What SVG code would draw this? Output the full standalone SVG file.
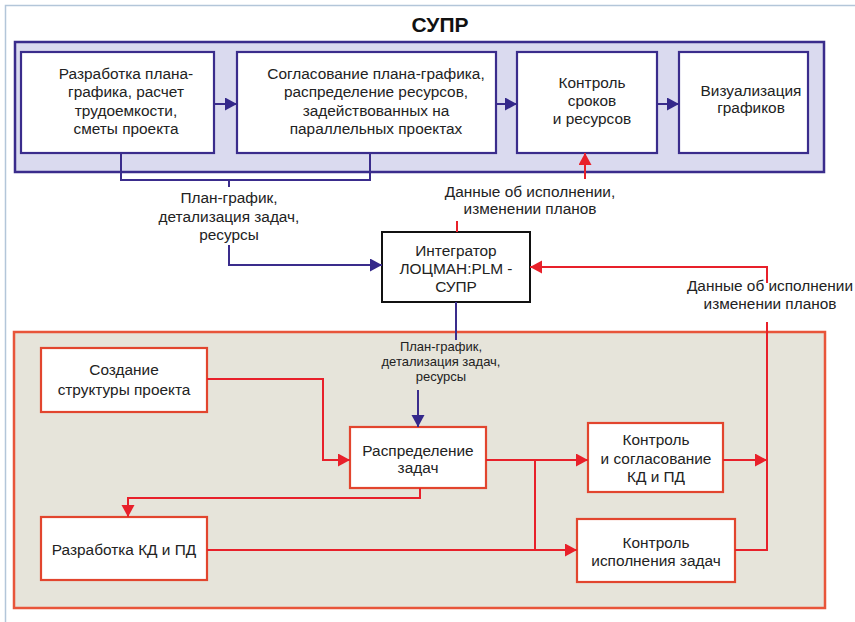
<svg xmlns="http://www.w3.org/2000/svg" width="855" height="622" viewBox="0 0 855 622">
<defs>
<marker id="ab" markerUnits="userSpaceOnUse" markerWidth="14" markerHeight="14" refX="12" refY="6.5" orient="auto"><path d="M0,0 L12,6.5 L0,13 z" fill="#34288a"/></marker>
<marker id="ar" markerUnits="userSpaceOnUse" markerWidth="14" markerHeight="14" refX="12" refY="6.5" orient="auto"><path d="M0,0 L12,6.5 L0,13 z" fill="#e8202a"/></marker>
</defs>
<style>
text{font-family:"Liberation Sans",Arial,sans-serif;fill:#222;text-anchor:middle}
.t{font-size:15.4px}
.s{font-size:13px}
.bbox{fill:#fff;stroke:#3a2c8c;stroke-width:2.2}
.rbox{fill:#fff;stroke:#e2452e;stroke-width:2.2}
.bl{fill:none;stroke:#3a2c8c;stroke-width:2}
.rl{fill:none;stroke:#e8202a;stroke-width:2}
</style>
<rect width="855" height="622" fill="#fff"/>
<path d="M5.5,622 V5.5 H855" fill="none" stroke="#b3c6d9" stroke-width="1.5"/>
<text x="440" y="32" style="font-size:21px;font-weight:bold;fill:#111">СУПР</text>

<g id="supr-container"><rect x="15" y="42" width="809" height="130" fill="#dadaef" stroke="#3a2c8c" stroke-width="2.5"/></g>
<g id="plm-container"><rect x="14" y="332" width="811" height="276" fill="#e6e4da" stroke="#e8553a" stroke-width="2.5"/></g>

<g id="n1"><rect class="bbox" x="21" y="52" width="193" height="101"/>
<text class="t" x="126" y="79">Разработка плана-</text><text class="t" x="126" y="97">графика, расчет</text><text class="t" x="126" y="116">трудоемкости,</text><text class="t" x="126" y="134">сметы проекта</text></g>
<g id="n2"><rect class="bbox" x="237" y="52" width="259" height="101"/>
<text class="t" x="376" y="79">Согласование плана-графика,</text><text class="t" x="376" y="97">распределение ресурсов,</text><text class="t" x="376" y="116">задействованных на</text><text class="t" x="376" y="134">параллельных проектах</text></g>
<g id="n3"><rect class="bbox" x="517" y="52" width="140" height="101"/>
<text class="t" x="592" y="88">Контроль</text><text class="t" x="592" y="106">сроков</text><text class="t" x="592" y="124">и ресурсов</text></g>
<g id="n4"><rect class="bbox" x="679" y="52" width="129" height="101"/>
<text class="t" x="751" y="96">Визуализация</text><text class="t" x="751" y="113">графиков</text></g>

<g id="integrator"><rect x="382" y="232" width="148" height="70" fill="#fff" stroke="#111" stroke-width="2"/>
<text class="t" x="456" y="256">Интегратор</text><text class="t" x="456" y="274">ЛОЦМАН:PLM -</text><text class="t" x="456" y="292">СУПР</text></g>

<g id="m1"><rect class="rbox" x="41" y="348" width="166" height="64"/>
<text class="t" x="124" y="375">Создание</text><text class="t" x="124" y="395">структуры проекта</text></g>
<g id="m2"><rect class="rbox" x="350" y="427" width="136" height="61"/>
<text class="t" x="418" y="456">Распределение</text><text class="t" x="418" y="473">задач</text></g>
<g id="m3"><rect class="rbox" x="41" y="517" width="166" height="63"/>
<text class="t" x="124" y="555">Разработка КД и ПД</text></g>
<g id="m4"><rect class="rbox" x="588" y="423" width="135" height="69"/>
<text class="t" x="656" y="445">Контроль</text><text class="t" x="656" y="464">и согласование</text><text class="t" x="656" y="482">КД и ПД</text></g>
<g id="m5"><rect class="rbox" x="577" y="519" width="158" height="63"/>
<text class="t" x="656" y="548">Контроль</text><text class="t" x="656" y="566">исполнения задач</text></g>

<g id="labels">
<text class="t" x="229" y="203">План-график,</text><text class="t" x="229" y="222">детализация задач,</text><text class="t" x="229" y="240">ресурсы</text>
<text class="t" x="530" y="197">Данные об исполнении,</text><text class="t" x="530" y="214">изменении планов</text>
<text class="t" x="770" y="291">Данные об исполнении</text><text class="t" x="770" y="309">изменении планов</text>
<text class="s" x="441" y="351">План-график,</text><text class="s" x="441" y="366">детализация задач,</text><text class="s" x="441" y="381">ресурсы</text>
</g>

<g id="connectors">
<path class="bl" d="M214,104 H237" marker-end="url(#ab)"/>
<path class="bl" d="M496,104 H517" marker-end="url(#ab)"/>
<path class="bl" d="M657,104 H679" marker-end="url(#ab)"/>
<path class="bl" d="M121,153 V180 H370 V153"/>
<path class="bl" d="M229,180 V187"/>
<path class="bl" d="M229,245 V265 H382" marker-end="url(#ab)"/>
<path class="bl" d="M456,302 V340"/>
<path class="bl" d="M418,390 V427" marker-end="url(#ab)"/>
<path class="rl" d="M457,232 V221"/>
<path class="rl" d="M585,179 V153" marker-end="url(#ar)"/>
<path class="rl" d="M767,283 V267 H530" marker-end="url(#ar)"/>
<path class="rl" d="M207,379 H323 V460 H350" marker-end="url(#ar)"/>
<path class="rl" d="M420,488 V498 H128 V517" marker-end="url(#ar)"/>
<path class="rl" d="M486,460 H588" marker-end="url(#ar)"/>
<path class="rl" d="M207,550 H577" marker-end="url(#ar)"/>
<path class="rl" d="M535,460 V550"/>
<path class="rl" d="M723,460 H767" marker-end="url(#ar)"/>
<path class="rl" d="M735,550 H767 V322"/>
</g>
</svg>
